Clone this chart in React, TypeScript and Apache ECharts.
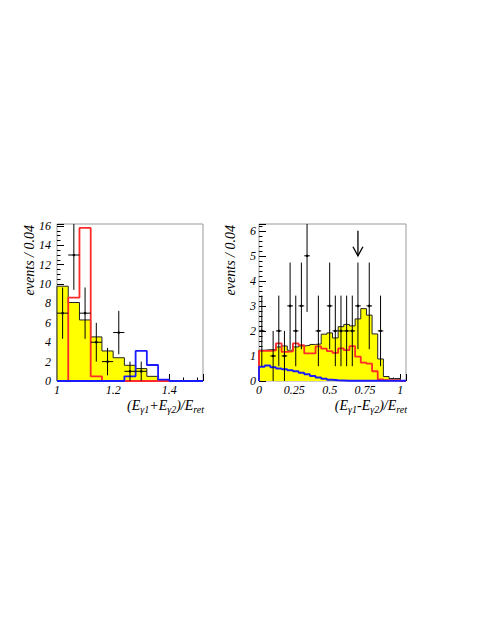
import React, { useEffect, useRef } from "react";
import * as echarts from "echarts";

const FONT = '"Liberation Serif", "DejaVu Serif", serif';

// ---------- left panel: (Eγ1+Eγ2)/Eret ----------
const binWidth = 0.04;
const leftStart = 1.0;
const leftBkg = [9.78, 8.1, 6.3, 4.55, 3.1, 2.4, 1.62, 1.28, 0.48, 0, 0, 0, 0];
const leftRed = [0, 8.6, 15.8, 0.48, 0, 0, 0, 0, 0, 0, 0, 0, 0];
const leftBlue = [0, 0, 0, 0, 0, 0, 0.48, 3.1, 1.65, 0.14, 0, 0, 0];
const leftDataX = [1.02, 1.06, 1.1, 1.14, 1.18, 1.22, 1.26, 1.3];
const leftDataY = [7, 13, 7, 4, 2, 5, 1, 1];
const leftDataLo = [4.35, 9.4, 4.35, 2, 0.59, 2.76, 0, 0];
const leftDataHi = [9.65, 16.6, 9.65, 6, 3.41, 7.24, 2, 2];

// ---------- right panel: (Eγ1-Eγ2)/Eret ----------
const rightStart = 0.0;
const rightBkg = [
  1.23, 1.25, 1.25, 1.36, 1.4, 1.23, 1.36, 1.4, 1.42, 1.46, 1.48, 1.87, 1.92,
  1.72, 2.17, 2.26, 2.2, 2.48, 2.89, 2.63, 1.88, 0.88, 0.18, 0.1, 0.1, 0,
];
const rightRed = [
  1.2, 1.2, 1.22, 1.5, 1.16, 1.18, 1.5, 1.43, 1.1, 1.1, 1.38, 1.29, 1.19, 1.12,
  1.3, 1.23, 1.39, 0.97, 0.73, 0.69, 0.39, 0.06, 0.03, 0.03, 0.03, 0,
];
const rightBlue = [
  0.57, 0.62, 0.55, 0.5, 0.47, 0.43, 0.39, 0.33, 0.27, 0.2, 0.14, 0.09, 0.05,
  0.03, 0.02, 0.01, 0.01, 0.01, 0.01, 0.01, 0.01, 0.01, 0.01, 0.01, 0.01, 0.01,
];
const rightDataX = [
  0.02, 0.1, 0.14, 0.18, 0.22, 0.26, 0.3, 0.34, 0.42, 0.5, 0.54, 0.58, 0.62,
  0.66, 0.7, 0.78, 0.86,
];
const rightDataY = [2, 1, 2, 1, 3, 2, 3, 5, 2, 3, 2, 2, 2, 2, 3, 3, 2];
const rightDataLo = [
  0.59, 0, 0.59, 0, 1.27, 0.59, 1.27, 2.76, 0.59, 1.27, 0.59, 0.59, 0.59, 0.59,
  1.27, 1.27, 0.59,
];
const rightDataHi = [
  3.41, 2, 3.41, 2, 4.73, 3.41, 4.73, 7.24, 3.41, 4.73, 3.41, 3.41, 3.41, 3.41,
  4.73, 4.73, 3.41,
];
const arrowX = [0.7];
const arrowTop = [6.0];
const arrowTip = [5.0];

const yTitle = "events / 0.04";

function stepData(start: number, w: number, vals: number[]) {
  const d: number[][] = [[start, 0]];
  vals.forEach((v, i) => d.push([+(start + i * w).toFixed(4), v]));
  const end = +(start + vals.length * w).toFixed(4);
  d.push([end, vals[vals.length - 1]]);
  d.push([end, 0]);
  return d;
}

function pointData(xs: number[], ys: number[], lo: number[], hi: number[]) {
  return xs.map((x, i) => [x, ys[i], lo[i], hi[i]]);
}

const errRender = (params: any, api: any) => {
  const x = api.value(0);
  const y = api.value(1);
  const lo = api.value(2);
  const hi = api.value(3);
  const c = api.coord([x, y]);
  const pLo = api.coord([x, lo]);
  const pHi = api.coord([x, hi]);
  const pL = api.coord([x - binWidth / 2, y]);
  const pR = api.coord([x + binWidth / 2, y]);
  const st = { stroke: "#000", lineWidth: 1 };
  return {
    type: "group",
    children: [
      { type: "line", shape: { x1: c[0], y1: pLo[1], x2: c[0], y2: pHi[1] }, style: st },
      { type: "line", shape: { x1: pL[0], y1: c[1], x2: pR[0], y2: c[1] }, style: st },
      { type: "circle", shape: { cx: c[0], cy: c[1], r: 1.3 }, style: { fill: "#000" } },
    ],
  };
};

const arrowRender = (params: any, api: any) => {
  const x = api.value(0);
  const top = api.coord([x, api.value(1)]);
  const tip = api.coord([x, api.value(2)]);
  const st = { stroke: "#000", lineWidth: 1.3, fill: "none" };
  return {
    type: "group",
    children: [
      { type: "line", shape: { x1: top[0], y1: top[1], x2: tip[0], y2: tip[1] }, style: st },
      {
        type: "polyline",
        shape: { points: [[tip[0] - 5, tip[1] - 9], [tip[0], tip[1]], [tip[0] + 5, tip[1] - 9]] },
        style: st,
      },
    ],
  };
};

const labelStyle = {
  fontFamily: FONT,
  fontStyle: "italic" as const,
  fontSize: 12,
  color: "#000",
};

function valueAxis(
  gridIndex: number,
  min: number,
  max: number,
  interval: number,
  minorSplit: number,
  margin: number,
  tickLen: number
) {
  return {
    type: "value",
    gridIndex,
    min,
    max,
    interval,
    axisLine: { show: false },
    axisTick: { show: true, inside: true, length: tickLen, lineStyle: { color: "#000", width: 1 } },
    minorTick: { show: true, splitNumber: minorSplit, length: tickLen / 2, lineStyle: { color: "#000", width: 1 } },
    splitLine: { show: false },
    axisLabel: { ...labelStyle, margin, showMaxLabel: false },
  };
}

const richTitle = (txt: string) => ({
  text: txt,
  fontFamily: FONT,
  fontStyle: "italic",
  fill: "#000",
  align: "right",
  verticalAlign: "top",
  rich: {
    m: { fontFamily: FONT, fontStyle: "italic", fontSize: 14, lineHeight: 15, verticalAlign: "top", fill: "#000" },
    s: {
      fontFamily: FONT,
      fontStyle: "italic",
      fontSize: 10,
      lineHeight: 11,
      padding: [6, 0, 0, 0],
      verticalAlign: "top",
      fill: "#000",
    },
  },
});

export default function App() {
  const ref = useRef<HTMLDivElement>(null);
  useEffect(() => {
    document.body.style.margin = "0";
    const chart = echarts.init(ref.current!, null, { renderer: "svg" });
    const histLine = (
      name: string,
      data: number[][],
      idx: number,
      color: string,
      width: number,
      z: number,
      fill?: string
    ) => ({
      name,
      type: "line",
      xAxisIndex: idx,
      yAxisIndex: idx,
      step: "end",
      symbol: "none",
      data,
      z,
      lineStyle: { color, width },
      areaStyle: fill ? { color: fill, opacity: 1 } : undefined,
      silent: true,
    });
    chart.setOption({
      animation: false,
      grid: [
        { left: 57, top: 224, width: 146, height: 157, show: true, borderColor: "#999", borderWidth: 1, backgroundColor: "transparent" },
        { left: 259, top: 224, width: 147, height: 157, show: true, borderColor: "#999", borderWidth: 1, backgroundColor: "transparent" },
      ],
      xAxis: [
        valueAxis(0, 1.0, 1.52, 0.2, 4, 3, 7),
        valueAxis(1, 0, 1.04, 0.25, 5, 3, 7),
      ],
      yAxis: [
        valueAxis(0, 0, 16.2, 2, 4, 6, 7),
        valueAxis(1, 0, 6.27, 1, 5, 3, 7),
      ],
      graphic: [
        {
          type: "text",
          x: 29,
          y: 225,
          rotation: Math.PI / 2,
          style: { text: yTitle, fontFamily: FONT, fontStyle: "italic", fontSize: 14, fill: "#000", align: "right", verticalAlign: "middle" },
        },
        {
          type: "text",
          x: 230,
          y: 225,
          rotation: Math.PI / 2,
          style: { text: yTitle, fontFamily: FONT, fontStyle: "italic", fontSize: 14, fill: "#000", align: "right", verticalAlign: "middle" },
        },
        {
          type: "text",
          x: 204,
          y: 398,
          style: richTitle("{m|(E}{s|γ1}{m|+E}{s|γ2}{m|)/E}{s|ret}"),
        },
        {
          type: "text",
          x: 407,
          y: 398,
          style: richTitle("{m|(E}{s|γ1}{m|-E}{s|γ2}{m|)/E}{s|ret}"),
        },
      ],
      series: [
        histLine("bkgL", stepData(leftStart, binWidth, leftBkg), 0, "#222", 1, 1, "#ffff00"),
        histLine("redL", stepData(leftStart, binWidth, leftRed), 0, "#ff2a2a", 1.8, 2),
        histLine("blueL", stepData(leftStart, binWidth, leftBlue), 0, "#1a1aff", 1.8, 3),
        {
          type: "custom",
          xAxisIndex: 0,
          yAxisIndex: 0,
          renderItem: errRender,
          data: pointData(leftDataX, leftDataY, leftDataLo, leftDataHi),
          clip: true,
          z: 5,
          silent: true,
        },
        histLine("bkgR", stepData(rightStart, binWidth, rightBkg), 1, "#222", 1, 1, "#ffff00"),
        histLine("redR", stepData(rightStart, binWidth, rightRed), 1, "#ff2a2a", 1.8, 2),
        histLine("blueR", stepData(rightStart, binWidth, rightBlue), 1, "#1a1aff", 1.8, 3),
        {
          type: "custom",
          xAxisIndex: 1,
          yAxisIndex: 1,
          renderItem: errRender,
          data: pointData(rightDataX, rightDataY, rightDataLo, rightDataHi),
          clip: true,
          z: 5,
          silent: true,
        },
        {
          type: "custom",
          xAxisIndex: 1,
          yAxisIndex: 1,
          renderItem: arrowRender,
          data: arrowX.map((x, i) => [x, arrowTop[i], arrowTip[i]]),
          clip: true,
          z: 6,
          silent: true,
        },
      ],
    });
    return () => chart.dispose();
  }, []);
  return (
    <div
      ref={ref}
      style={{ position: "absolute", left: 0, top: 0, width: 487, height: 630, background: "#fff" }}
    />
  );
}
